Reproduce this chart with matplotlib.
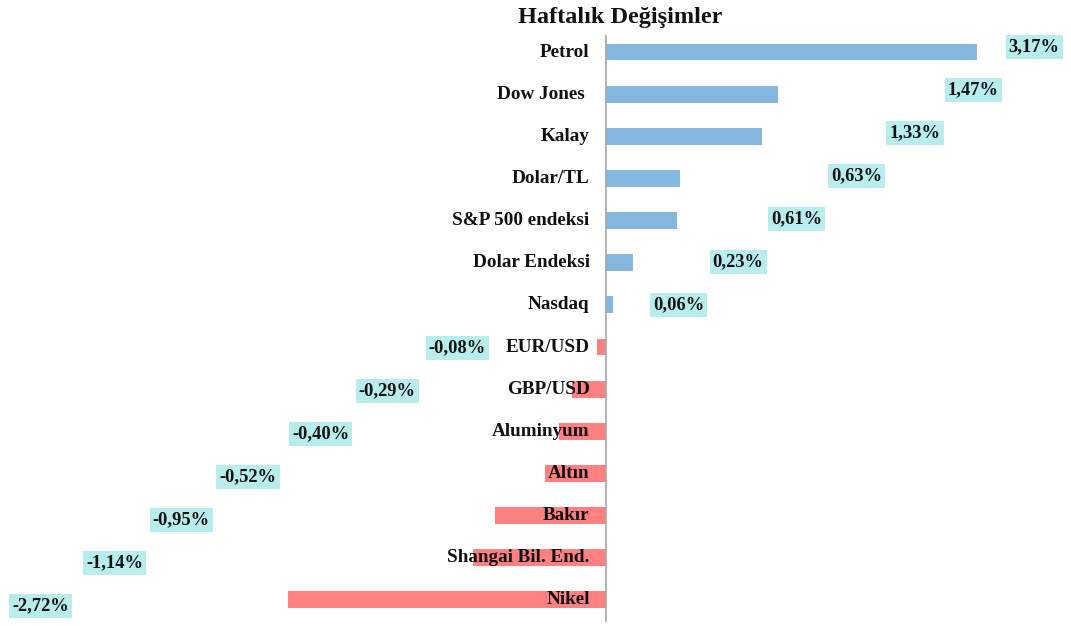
import numpy as np
import matplotlib.pyplot as plt

names = ["Petrol", "Dow Jones ", "Kalay", "Dolar/TL", "S&P 500 endeksi", "Dolar Endeksi",
         "Nasdaq", "EUR/USD", "GBP/USD", "Aluminyum", "Altın", "Bakır",
         "Shangai Bil. End.", "Nikel"]
changes = [3.17, 1.47, 1.33, 0.63, 0.61, 0.23, 0.06,
           -0.08, -0.29, -0.40, -0.52, -0.95, -1.14, -2.72]
# where Excel dropped the value labels (data units)
label_x = [3.66, 3.14, 2.64, 2.14, 1.63, 1.13, 0.62,
           -1.27, -1.87, -2.44, -3.06, -3.63, -4.20, -4.83]

scale = 117.0  # px per unit
fig = plt.figure(figsize=(10.71, 6.26), dpi=100)
ax = fig.add_axes([0, 0, 1, 1])

pos = np.arange(len(names))
colors = ["#85B8E0" if v > 0 else "#FF8080" for v in changes]
ax.barh(pos, changes, height=0.4, color=colors, zorder=1)

ax.vlines(0, -0.4, 13.52, color="#A6A6A6", lw=1.2, zorder=3)

# labels drift slightly relative to bars in the original
label_y = pos * (43.0 / 42.15) - 0.12

for i, (n, v, lx) in enumerate(zip(names, changes, label_x)):
    ax.text(-0.14, i, n, ha="right", va="center", fontsize=13.8,
            family="Liberation Serif", fontweight="bold", color="#111111", zorder=2)
    s = ("%.2f%%" % v).replace(".", ",")
    ax.text(lx, label_y[i], s, ha="center", va="center", fontsize=13.3,
            family="Liberation Serif", fontweight="bold", color="#111111",
            bbox=dict(boxstyle="square,pad=0.17", fc="#B7EDED", ec="none"), zorder=4)

ax.set_xlim(-606 / scale, (1071 - 606) / scale)
ax.set_ylim(13.62, -1.234)
ax.axis("off")

fig.text(0.579, 1 - 17 / 626, "Haftalık Değişimler", ha="center", va="center",
         fontsize=17.5, family="Liberation Serif", fontweight="bold", color="#111111")

fig.savefig("out.png", dpi=100)
